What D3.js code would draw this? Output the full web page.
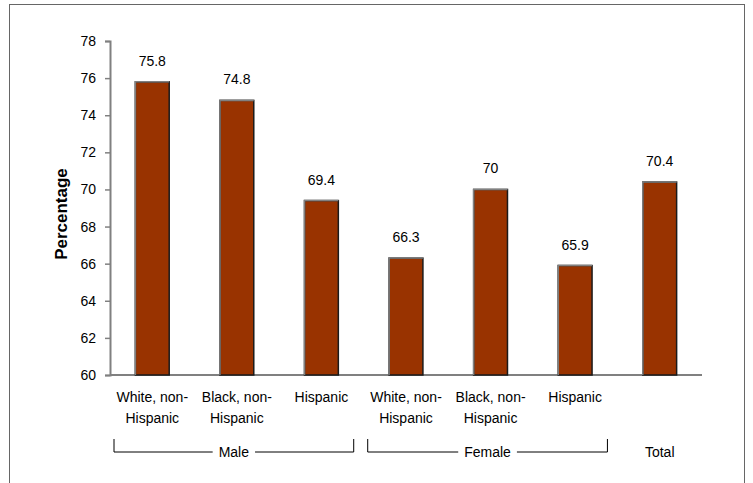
<!DOCTYPE html>
<html>
<head>
<meta charset="utf-8">
<script src="https://cdn.jsdelivr.net/npm/d3@7"></script>
<style>
  body { margin: 0; background: #fff; }
  svg text { font-family: "Liberation Sans", Arial, sans-serif; fill: #000; }
</style>
</head>
<body>
<div id="chart"></div>
<script>
// data
var categories = ["Male WNH", "Male BNH", "Male H", "Female WNH", "Female BNH", "Female H", "Total"];
var catLabels = [["White, non-", "Hispanic"], ["Black, non-", "Hispanic"], ["Hispanic"],
                 ["White, non-", "Hispanic"], ["Black, non-", "Hispanic"], ["Hispanic"], []];
var values = [75.8, 74.8, 69.4, 66.3, 70, 65.9, 70.4];
var yTicks = [60, 62, 64, 66, 68, 70, 72, 74, 76, 78];
var groups = [
  { name: "Male", from: 0, to: 2, bracket: true },
  { name: "Female", from: 3, to: 5, bracket: true },
  { name: "Total", from: 6, to: 6, bracket: false }
];

var W = 753, H = 483;
var margin = { top: 41, left: 110 };
var width = 592, height = 334;

var svg = d3.select("#chart")
  .append("svg")
    .attr("width", W)
    .attr("height", H);

// outer frame
svg.append("rect")
  .attr("x", 9.5).attr("y", 4.5)
  .attr("width", 735).attr("height", 490)
  .attr("fill", "none")
  .attr("stroke", "#666")
  .attr("stroke-width", 1);

var g = svg.append("g")
  .attr("transform", "translate(" + margin.left + "," + margin.top + ")");

var x = d3.scaleBand()
  .domain(categories)
  .range([0, width])
  .paddingInner(0.6)
  .paddingOuter(0.3);

var y = d3.scaleLinear()
  .domain([60, 78])
  .range([height, 0]);

// Y axis
var yAxis = g.append("g")
  .call(d3.axisLeft(y).tickValues(yTicks).tickSize(5).tickPadding(9));
yAxis.select(".domain").attr("stroke", "#808080").attr("stroke-width", 2);
yAxis.selectAll(".tick line").attr("stroke", "#808080").attr("stroke-width", 1.5);
yAxis.selectAll(".tick text")
  .style("font-size", "14px")
  .style("font-family", "Liberation Sans, Arial, sans-serif")
  .attr("fill", "#000");

// baseline
g.append("line")
  .attr("x1", 0).attr("x2", width)
  .attr("y1", height).attr("y2", height)
  .attr("stroke", "#808080")
  .attr("stroke-width", 2);

// bars
var bars = g.append("g").selectAll("g")
  .data(values)
  .enter().append("g");

bars.append("rect")
  .attr("x", (d, i) => x(categories[i]))
  .attr("y", d => y(d))
  .attr("width", x.bandwidth())
  .attr("height", d => y(60) - y(d))
  .attr("fill", "#993300")
  .attr("stroke", "#1a1a1a")
  .attr("stroke-width", 1.5);

// grey top/left edges
bars.append("path")
  .attr("d", (d, i) => "M" + x(categories[i]) + "," + y(60) + "V" + y(d) + "H" + (x(categories[i]) + x.bandwidth()))
  .attr("fill", "none")
  .attr("stroke", "#808080")
  .attr("stroke-width", 1.5);

// value labels
bars.append("text")
  .attr("x", (d, i) => x(categories[i]) + x.bandwidth() / 2)
  .attr("y", d => y(d) - 16)
  .attr("text-anchor", "middle")
  .style("font-size", "14px")
  .text(d => d);

// category labels
var catG = g.append("g").selectAll("text")
  .data(catLabels)
  .enter().append("text")
  .attr("text-anchor", "middle")
  .attr("x", (d, i) => x(categories[i]) + x.bandwidth() / 2)
  .attr("y", height + 27)
  .style("font-size", "14px");
catG.selectAll("tspan")
  .data(d => d)
  .enter().append("tspan")
  .attr("x", function () { return this.parentNode.getAttribute("x"); })
  .attr("dy", (d, i) => i === 0 ? 0 : 21)
  .text(d => d);

// group brackets
var step = x.step();
groups.forEach(function (grp) {
  var x0 = x(categories[grp.from]) - step * 0.3 + 4;
  var x1 = x(categories[grp.to]) + x.bandwidth() + step * 0.3 - 10;
  var cx = (x0 + x1) / 2;
  var by = height + 77;
  var label = g.append("text")
    .attr("x", grp.bracket ? cx : x(categories[grp.from]) + x.bandwidth() / 2)
    .attr("y", by + 5)
    .attr("text-anchor", "middle")
    .style("font-size", "14px")
    .text(grp.name);
  if (grp.bracket) {
    var tw = label.node().getComputedTextLength() / 2 + 6;
    g.append("path")
      .attr("d", "M" + x0 + "," + (by - 13) + "V" + by + "H" + (cx - tw))
      .attr("fill", "none").attr("stroke", "#000").attr("stroke-width", 1);
    g.append("path")
      .attr("d", "M" + (cx + tw) + "," + by + "H" + x1 + "V" + (by - 13))
      .attr("fill", "none").attr("stroke", "#000").attr("stroke-width", 1);
  }
});

// y axis title
svg.append("text")
  .attr("transform", "translate(67," + (margin.top + height / 2 + 6) + ") rotate(-90)")
  .attr("text-anchor", "middle")
  .style("font-size", "17px")
  .style("font-weight", "bold")
  .text("Percentage");
</script>
</body>
</html>
